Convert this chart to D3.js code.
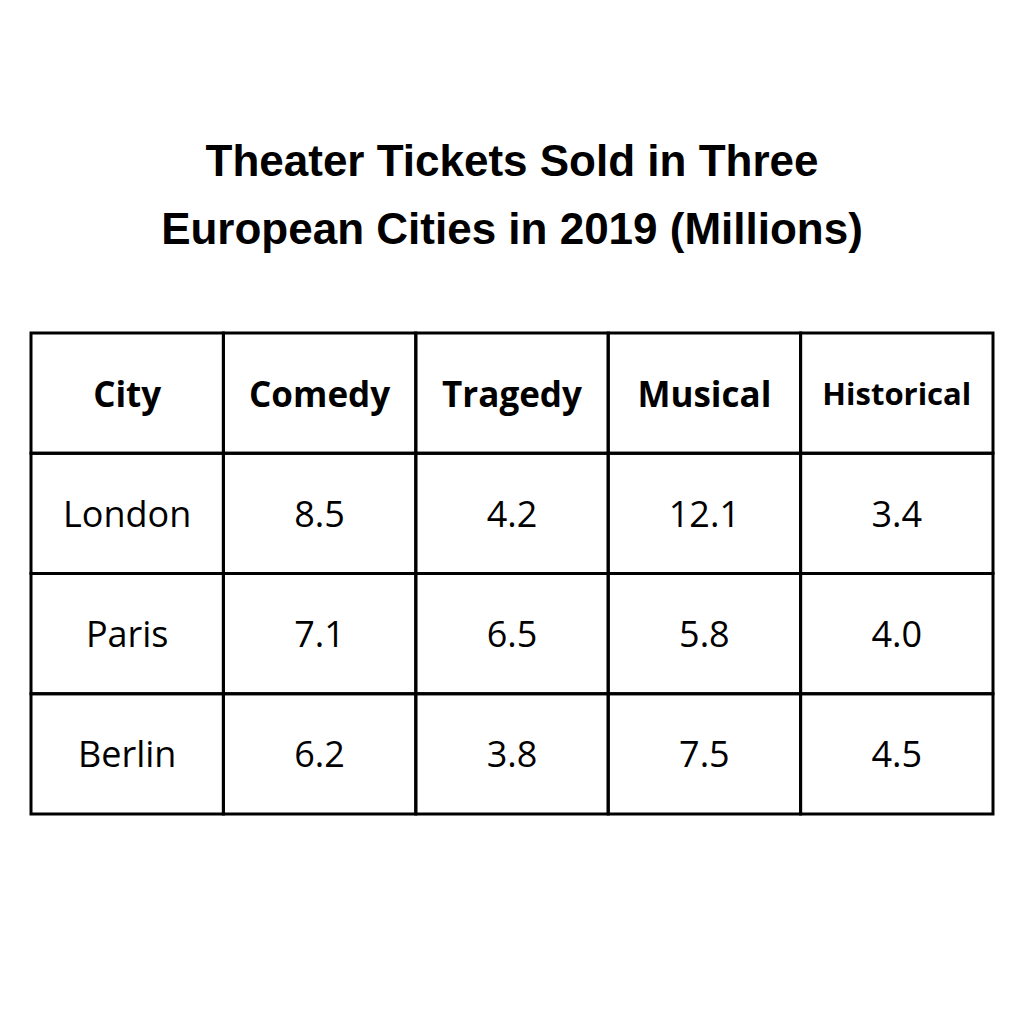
<!DOCTYPE html>
<html><head><meta charset="utf-8">
<script src="https://cdn.jsdelivr.net/npm/d3@7"></script>
<style>body{margin:0;background:#fff}</style></head>
<body><svg id="c" width="1024" height="1024"></svg>
<script>
const titleLines = ["Theater Tickets Sold in Three", "European Cities in 2019 (Millions)"];
const columns = ["City", "Comedy", "Tragedy", "Musical", "Historical"];
const cities = ["London", "Paris", "Berlin"];
const comedy = [8.5, 7.1, 6.2];
const tragedy = [4.2, 6.5, 3.8];
const musical = [12.1, 5.8, 7.5];
const historical = [3.4, 4.0, 4.5];

const rows = cities.map((c, i) => [c, comedy[i].toFixed(1), tragedy[i].toFixed(1), musical[i].toFixed(1), historical[i].toFixed(1)]);
const svg = d3.select("#c");
const font = "'Open Sans', 'Noto Sans', sans-serif";

svg.selectAll("text.title").data(titleLines).join("text")
  .attr("x", 512).attr("y", (d, i) => 176 + i * 68)
  .attr("text-anchor", "middle").attr("font-family", "'Liberation Sans', Arial, sans-serif")
  .attr("font-weight", "bold").attr("font-size", 44).text(d => d);

const x = d3.scaleBand().domain(d3.range(columns.length)).range([31, 993]);
const y = d3.scaleBand().domain(d3.range(rows.length + 1)).range([333, 814]);
const all = [columns, ...rows];

all.forEach((r, ri) => {
  r.forEach((v, ci) => {
    svg.append("rect").attr("x", x(ci)).attr("y", y(ri))
      .attr("width", x.bandwidth()).attr("height", y.bandwidth())
      .attr("fill", "none").attr("stroke", "#000").attr("stroke-width", 3);
    svg.append("text").attr("x", x(ci) + x.bandwidth() / 2).attr("y", y(ri) + y.bandwidth() / 2)
      .attr("text-anchor", "middle").attr("dominant-baseline", "central")
      .attr("font-family", font)
      .attr("font-weight", ri === 0 ? "bold" : "normal")
      .attr("font-size", ri === 0 ? (v === "Historical" ? 31 : 35) : 36)
      .text(v);
  });
});
</script></body></html>
